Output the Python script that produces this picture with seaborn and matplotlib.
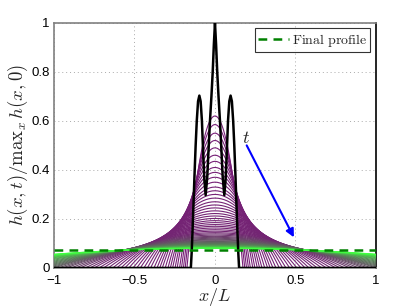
import numpy as np
import pandas as pd
import matplotlib
matplotlib.use('Agg')
import matplotlib.pyplot as plt
import seaborn as sns
from matplotlib.colors import LinearSegmentedColormap

### Data ###

## Initial profile (right half, mirrored) ##
init_x = [0, 0.007, 0.014, 0.022, 0.031, 0.040, 0.048, 0.058, 0.066, 0.074, 0.081,
          0.089, 0.097, 0.105, 0.113, 0.120, 0.127, 0.134, 0.140, 0.145, 0.149, 0.150, 1.0]
init_h = [1.0, 0.91, 0.80, 0.70, 0.60, 0.48, 0.37, 0.297, 0.36, 0.48, 0.60,
          0.68, 0.703, 0.68, 0.60, 0.50, 0.38, 0.25, 0.14, 0.06, 0.01, 0.0, 0.0]

## Spreading profiles: peak height and front position of each one ##
peak_h = [0.62, 0.585, 0.55, 0.52, 0.49, 0.46, 0.435, 0.41, 0.39, 0.37, 0.35, 0.33,
          0.315, 0.30, 0.285, 0.27, 0.257, 0.245, 0.233, 0.222, 0.212, 0.202, 0.193,
          0.185, 0.177, 0.170, 0.163, 0.156, 0.150, 0.144, 0.139, 0.134, 0.129, 0.125,
          0.121, 0.117, 0.114, 0.111, 0.108, 0.106, 0.104, 0.102, 0.100, 0.098, 0.096,
          0.094, 0.092, 0.090, 0.0885, 0.087, 0.0857, 0.0845, 0.0835, 0.0826, 0.0818,
          0.0811, 0.0805, 0.080]
front_x = [0.174, 0.185, 0.196, 0.208, 0.220, 0.235, 0.248, 0.263, 0.277, 0.292, 0.309,
           0.327, 0.343, 0.360, 0.379, 0.400, 0.420, 0.441, 0.464, 0.486, 0.509, 0.535,
           0.560, 0.584, 0.610, 0.635, 0.663, 0.692, 0.720, 0.750, 0.777, 0.806, 0.837,
           0.864, 0.893, 0.923, 0.947, 0.973, 1.0, 1.019, 1.041, 1.065, 1.091, 1.121,
           1.155, 1.193, 1.238, 1.291, 1.337, 1.391, 1.444, 1.501, 1.556, 1.612, 1.668,
           1.723, 1.777, 1.826]

## Normalised profile shape (right half) ##
shape_xi = [0, 0.05, 0.1, 0.15, 0.2, 0.25, 0.3, 0.35, 0.4, 0.45, 0.5,
            0.55, 0.6, 0.65, 0.7, 0.75, 0.8, 0.85, 0.9, 0.95, 1.0]
shape_f = [1, 0.9975, 0.99, 0.9775, 0.96, 0.9375, 0.91, 0.8775, 0.84, 0.7975, 0.75,
           0.6975, 0.64, 0.5775, 0.51, 0.4375, 0.36, 0.2775, 0.19, 0.0975, 0]

final_level = 0.072

## Build long table of profiles ##
xi = np.concatenate([-np.array(shape_xi[::-1]), np.array(shape_xi[1:])])
fv = np.concatenate([np.array(shape_f[::-1]), np.array(shape_f[1:])])
rows = []
for i, (H, w) in enumerate(zip(peak_h, front_x)):
    rows.append(pd.DataFrame({'x': w * xi, 'h': H * fv, 'curve': i}))
data_profiles = pd.concat(rows, ignore_index=True)

ix = np.concatenate([-np.array(init_x[::-1]), np.array(init_x[1:])])
ih = np.concatenate([np.array(init_h[::-1]), np.array(init_h[1:])])

### Plot ###
sns.set_style('white')
plt.rcParams['mathtext.fontset'] = 'cm'
plt.rcParams['font.family'] = ['Liberation Sans', 'DejaVu Sans']

cmap = LinearSegmentedColormap.from_list('pg', [(0.0, (0.47, 0.12, 0.47)),
                                                (0.5, (0.45, 0.15, 0.45)),
                                                (0.78, (0.35, 0.5, 0.35)),
                                                (1.0, (0.25, 1.0, 0.25))])
colors = [cmap(i / (len(peak_h) - 1)) for i in range(len(peak_h))]

fig = plt.figure(figsize=[4.15, 3.08], dpi=100)
ax = fig.add_axes([0.130, 0.130, 0.776, 0.796])

sns.lineplot(data=data_profiles, x='x', y='h', hue='curve', palette=colors,
             estimator=None, sort=False, legend=False, linewidth=0.8, ax=ax, zorder=3)
ax.plot(ix, ih, color='black', linewidth=1.8, zorder=4)
ax.plot([-1, 1], [final_level, final_level], '--', color='#008000', linewidth=1.8,
        dashes=(3.5, 2.5), zorder=5, label=r'$\mathrm{Final\ profile}$')

ax.annotate('', xy=(0.49, 0.125), xytext=(0.197, 0.50),
            arrowprops=dict(arrowstyle='-|>', color='blue', lw=1.5, mutation_scale=12,
                            shrinkA=0, shrinkB=0), zorder=6)
ax.text(0.19, 0.53, r'$t$', fontsize=13, ha='center', va='center', zorder=6)

#Formatting
ax.set_xlim(-1, 1)
ax.set_ylim(0, 1)
ax.set_xticks([-1, -0.5, 0, 0.5, 1])
ax.set_xticklabels(['\u22121', '\u22120.5', '0', '0.5', '1'])
ax.set_yticks([0, 0.2, 0.4, 0.6, 0.8, 1])
ax.set_yticklabels(['0', '0.2', '0.4', '0.6', '0.8', '1'])
ax.tick_params(direction='in', length=3, labelsize=9.5, colors='#666666', labelcolor='black', pad=3)
ax.tick_params(axis='x', pad=5)
ax.grid(True, linestyle=(0, (1, 3)), color='#aaaaaa', linewidth=0.7)
for s in ['top', 'left', 'bottom']:
    ax.spines[s].set_color('#808080')
    ax.spines[s].set_linewidth(1.2)
ax.spines['right'].set_color('black')
ax.spines['right'].set_linewidth(1.2)
ax.set_xlabel(r'$x/L$', fontsize=13, labelpad=-1)
ax.set_ylabel(r'$h(x,t)/\mathrm{max}_x\, h(x,0)$', fontsize=13.5, labelpad=1)

leg = ax.legend(loc='upper right', fontsize=10, frameon=True, fancybox=False,
                handlelength=2.2, borderpad=0.25, borderaxespad=0.4, handletextpad=0.2)
leg.get_frame().set_edgecolor('black')
leg.get_frame().set_linewidth(0.8)

plt.savefig('out.png', dpi=100)
